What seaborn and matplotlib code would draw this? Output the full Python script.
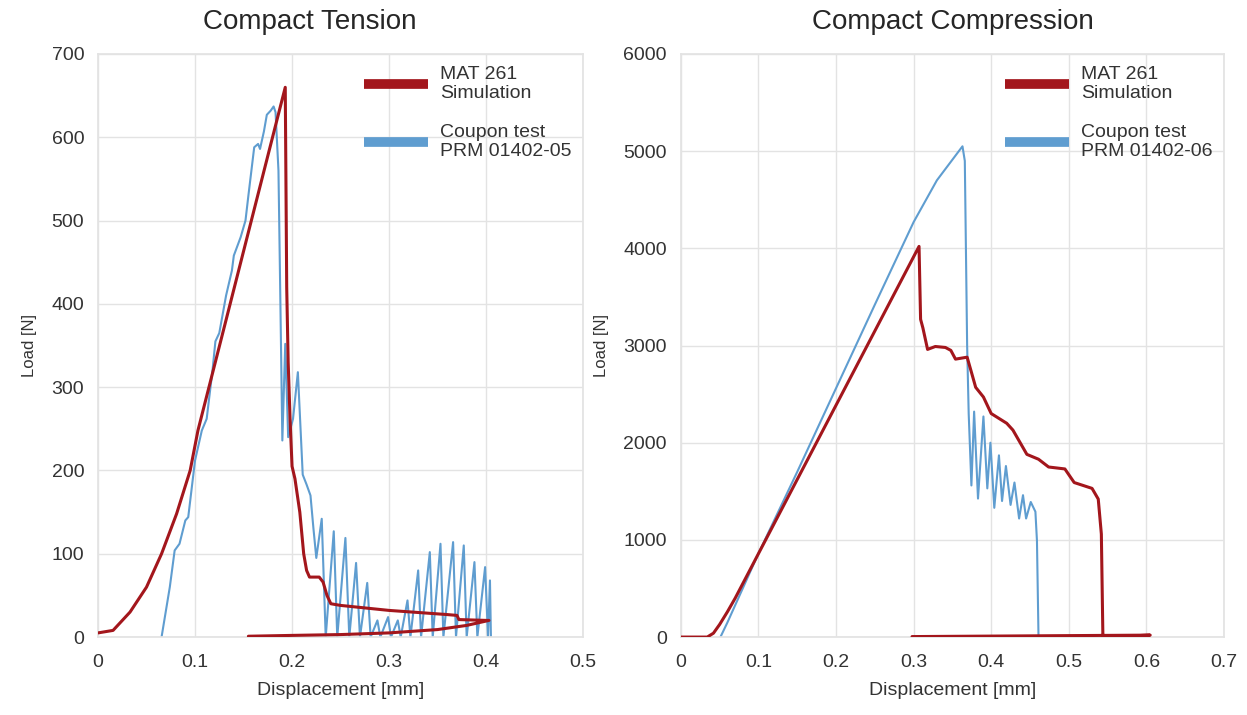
import matplotlib
matplotlib.use("Agg")
import matplotlib.pyplot as plt
import seaborn as sns
import pandas as pd
from matplotlib.ticker import FuncFormatter

# ---- Compact Tension data ----
tension_sim_x = [0, 0.0155, 0.033, 0.050, 0.0655, 0.081, 0.095, 0.103, 0.193,
                 0.1945, 0.196, 0.198, 0.200, 0.203, 0.208, 0.212, 0.215, 0.218,
                 0.228, 0.232, 0.236, 0.240, 0.25, 0.30, 0.36, 0.37, 0.372, 0.40,
                 0.403, 0.38, 0.35, 0.30, 0.25, 0.20, 0.155]
tension_sim_y = [5, 8, 30, 60, 100, 148, 200, 248, 660,
                 420, 330, 260, 205, 190, 150, 100, 80, 72,
                 72, 66, 50, 40, 38, 32, 27, 26, 21, 20,
                 20, 14, 9, 5, 3, 2, 1]

tension_test_x = [0.0655, 0.074, 0.079, 0.084, 0.090, 0.093, 0.100, 0.107, 0.112,
                  0.118, 0.121, 0.125, 0.132, 0.138, 0.140, 0.147, 0.152, 0.155, 0.161,
                  0.165, 0.167, 0.171, 0.174, 0.178, 0.181, 0.183, 0.186, 0.188, 0.190,
                  0.193, 0.196, 0.201, 0.206, 0.211, 0.215, 0.219, 0.222, 0.225, 0.2306,
                  0.2347, 0.243, 0.2466, 0.255, 0.259, 0.266, 0.270, 0.2775, 0.281, 0.288,
                  0.291, 0.299, 0.302, 0.309, 0.312, 0.319, 0.322, 0.330, 0.333, 0.342,
                  0.345, 0.353, 0.356, 0.366, 0.369, 0.377, 0.380, 0.388, 0.391, 0.399,
                  0.402, 0.404, 0.405]
tension_test_y = [0, 60, 104, 112, 140, 144, 212, 248, 262,
                  320, 355, 365, 410, 440, 458, 480, 500, 530, 588,
                  592, 586, 607, 627, 632, 637, 630, 560, 400, 236,
                  352, 240, 262, 318, 195, 183, 170, 131, 95, 142,
                  0, 127, 0, 119, 0, 89, 0, 65, 0, 20,
                  0, 24, 0, 20, 0, 44, 0, 80, 0, 102,
                  0, 112, 0, 114, 0, 110, 0, 90, 0, 84,
                  0, 68, 0]

# ---- Compact Compression data ----
compression_sim_x = [0, 0.034, 0.042, 0.05, 0.06, 0.07, 0.307, 0.309, 0.312, 0.318,
                     0.328, 0.341, 0.348, 0.354, 0.369, 0.374, 0.380, 0.390, 0.400, 0.420,
                     0.428, 0.446, 0.461, 0.474, 0.495, 0.507, 0.530, 0.538, 0.542, 0.544,
                     0.605, 0.298]
compression_sim_y = [0, 0, 40, 130, 260, 400, 4020, 3270, 3180, 2960,
                     2990, 2980, 2950, 2860, 2880, 2740, 2570, 2470, 2300, 2200,
                     2130, 1880, 1830, 1750, 1730, 1590, 1530, 1420, 1060, 0,
                     20, 5]

compression_test_x = [0.051, 0.06, 0.10, 0.15, 0.20, 0.25, 0.30, 0.33, 0.363, 0.366,
                      0.369, 0.371, 0.3745, 0.378, 0.383, 0.390, 0.395, 0.399, 0.404, 0.410,
                      0.414, 0.419, 0.425, 0.430, 0.436, 0.441, 0.445, 0.451, 0.457, 0.459,
                      0.461]
compression_test_y = [0, 150, 860, 1700, 2560, 3420, 4270, 4700, 5050, 4900,
                      3000, 2300, 1560, 2320, 1425, 2270, 1530, 2000, 1330, 1870,
                      1400, 1760, 1360, 1590, 1220, 1460, 1220, 1390, 1290, 990,
                      0]

RED = "#a3161c"
BLUE = "#5f9dd0"
TXT = "#333333"

sns.set_theme(style="whitegrid")
plt.rcParams["font.family"] = ["Liberation Sans", "DejaVu Sans"]
plt.rcParams["grid.color"] = "#e3e3e3"
plt.rcParams["axes.edgecolor"] = "#e3e3e3"

fig = plt.figure(figsize=(12.47, 7.15), dpi=100)
ax1 = fig.add_axes([0.0786, 0.109, 0.389, 0.8155])
ax2 = fig.add_axes([0.546, 0.109, 0.4355, 0.8155])


def draw(ax, sim_x, sim_y, test_x, test_y, test_name, xmax, ymax, ystep):
    sim = pd.DataFrame({"x": sim_x, "y": sim_y})
    test = pd.DataFrame({"x": test_x, "y": test_y})
    sns.lineplot(data=test, x="x", y="y", sort=False, estimator=None, ax=ax,
                 color=BLUE, linewidth=1.5, label=test_name, zorder=2)
    sns.lineplot(data=sim, x="x", y="y", sort=False, estimator=None, ax=ax,
                 color=RED, linewidth=2.2, label="MAT 261\nSimulation", zorder=3)
    ax.set_xlim(0, xmax)
    ax.set_ylim(0, ymax)
    ax.set_xticks([i / 10 for i in range(int(round(xmax * 10)) + 1)])
    ax.set_yticks(list(range(0, ymax + 1, ystep)))
    ax.xaxis.set_major_formatter(FuncFormatter(lambda v, p: "%g" % round(v, 2)))
    ax.tick_params(axis="both", labelsize=14, colors=TXT, length=0)
    ax.tick_params(axis="x", pad=12)
    ax.tick_params(axis="y", pad=10)
    ax.set_xlabel("Displacement [mm]", fontsize=14, color=TXT, labelpad=8)
    ax.set_ylabel("Load [N]", fontsize=12, color=TXT, labelpad=10)
    handles, labels = ax.get_legend_handles_labels()
    leg = ax.legend(handles[::-1], labels[::-1], loc="upper right",
                    bbox_to_anchor=(1.0, 1.0), frameon=False, fontsize=14,
                    handlelength=3.3, handletextpad=0.6, labelspacing=1.1,
                    borderaxespad=0.2)
    for line in leg.get_lines():
        line.set_linewidth(7)
        line.set_solid_capstyle("butt")
    for t in leg.get_texts():
        t.set_color(TXT)


draw(ax1, tension_sim_x, tension_sim_y, tension_test_x, tension_test_y,
     "Coupon test\nPRM 01402-05", 0.5, 700, 100)
draw(ax2, compression_sim_x, compression_sim_y, compression_test_x, compression_test_y,
     "Coupon test\nPRM 01402-06", 0.7, 6000, 1000)

fig.text(0.2486, 0.969, "Compact Tension", fontsize=20, ha="center", va="center")
fig.text(0.764, 0.969, "Compact Compression", fontsize=20, ha="center", va="center")

plt.savefig("out.png", dpi=100)
plt.close()
